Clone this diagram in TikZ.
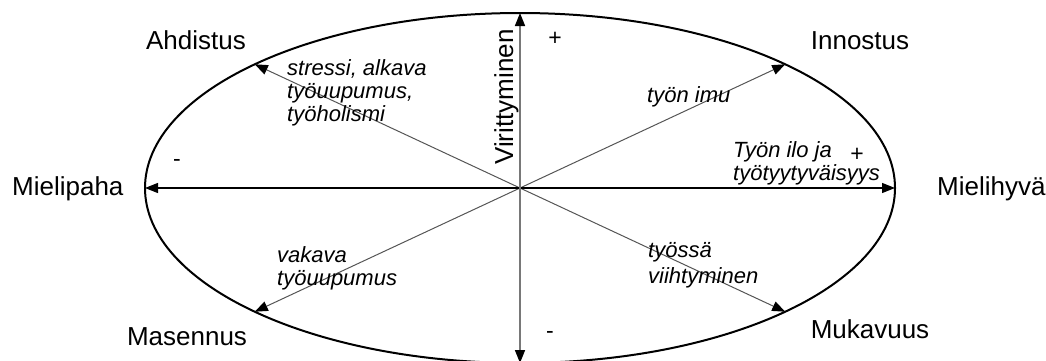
\documentclass[tikz,border=0pt]{standalone}
\usepackage{fontspec}
\setmainfont{Liberation Sans}
\usetikzlibrary{arrows.meta}
\definecolor{axisgray}{RGB}{120,120,120}
\definecolor{diaggray}{RGB}{85,85,85}
\begin{document}
\begin{tikzpicture}[x=1pt,y=-1pt,
  lbl/.style={font=\fontsize{26}{30}\selectfont, inner sep=0pt},
  sign/.style={font=\fontsize{23}{26}\selectfont, inner sep=0pt},
  itl/.style={font=\fontsize{22}{23}\selectfont\itshape, inner sep=0pt, anchor=base west},
  head/.style={-{Triangle[length=13pt,width=10pt,color=black]}},
  bothheads/.style={{Triangle[length=13pt,width=10pt,color=black]}-{Triangle[length=13pt,width=10pt,color=black]}},
  diag/.style={draw=diaggray, line width=1pt, head},
  hax/.style={draw=black, line width=1.2pt, bothheads},
  vax/.style={draw=axisgray, line width=1.6pt, bothheads},
  oval/.style={draw=black, line width=2pt}]
\useasboundingbox (0,0) rectangle (1046,360);
\coordinate (c) at (520,188);
\coordinate (N) at (520,13);
\coordinate (S) at (520,363);
\coordinate (W) at (145,188);
\coordinate (E) at (895,188);
\coordinate (NE) at (785.2,64.3);
\coordinate (NW) at (254.8,64.3);
\coordinate (SW) at (254.8,311.7);
\coordinate (SE) at (785.2,311.7);
\draw[oval] (c) ellipse [x radius=375, y radius=175];
\draw[diag] (c) -- (NE);
\draw[diag] (c) -- (NW);
\draw[diag] (c) -- (SW);
\draw[diag] (c) -- (SE);
\draw[hax] (W) -- (E);
\draw[vax] (S) -- (N);
% main labels
\node[lbl, anchor=base] (ahd) at (196,49) {Ahdistus};
\node[lbl, anchor=base] (inn) at (860,49) {Innostus};
\node[lbl, anchor=base west] (mpa) at (12,195) {Mielipaha};
\node[lbl, anchor=base west] (mhy) at (937,195) {Mielihyvä};
\node[lbl, anchor=base] (mas) at (187,345) {Masennus};
\node[lbl, anchor=base] (muk) at (870,338) {Mukavuus};
\node[lbl, anchor=base, rotate=90] (vir) at (513,97) {Virittyminen};
% signs
\node[sign] (p1) at (555,39) {+};
\node[sign] (p2) at (857,155) {+};
\node[sign] (m1) at (177,163) {-};
\node[sign] (m2) at (550,335) {-};
% italic labels
\node[itl] (s1) at (287,75) {stressi, alkava};
\node[itl] (s2) at (287,98) {työuupumus,};
\node[itl] (s3) at (287,121) {työholismi};
\node[itl] (ti) at (647,102) {työn imu};
\node[itl] (t1) at (733,157) {Työn ilo ja};
\node[itl] (t2) at (733,180) {työtyytyväisyys};
\node[itl] (v1) at (277,262) {vakava};
\node[itl] (v2) at (277,285) {työuupumus};
\node[itl] (w1) at (648,257) {työssä};
\node[itl] (w2) at (648,283) {viihtyminen};
\end{tikzpicture}
\end{document}
